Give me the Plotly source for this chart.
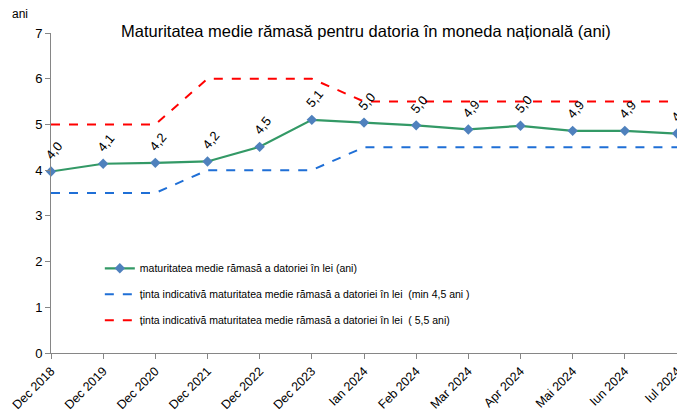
import plotly.graph_objects as go

categories = ["Dec 2018", "Dec 2019", "Dec 2020", "Dec 2021", "Dec 2022", "Dec 2023",
              "Ian 2024", "Feb 2024", "Mar 2024", "Apr 2024", "Mai 2024", "Iun 2024", "Iul 2024"]
maturity = [3.97, 4.14, 4.16, 4.19, 4.51, 5.10, 5.04, 4.98, 4.89, 4.97, 4.86, 4.86, 4.80]
maturity_labels = ["4,0", "4,1", "4,2", "4,2", "4,5", "5,1", "5,0", "5,0", "4,9", "5,0", "4,9", "4,9", "4,8"]
target_min = [3.5, 3.5, 3.5, 4.0, 4.0, 4.0, 4.5, 4.5, 4.5, 4.5, 4.5, 4.5, 4.5]
target_55 = [5.0, 5.0, 5.0, 6.0, 6.0, 6.0, 5.5, 5.5, 5.5, 5.5, 5.5, 5.5, 5.5]

xs = list(range(len(categories)))
font = "Liberation Sans, Arial, sans-serif"

fig = go.Figure()
fig.add_trace(go.Scatter(
    x=xs, y=maturity, mode="lines+markers",
    name="maturitatea medie rămasă a datoriei în lei (ani)",
    legendgroup="a",
    line=dict(color="#339966", width=2.2),
    marker=dict(symbol="diamond", size=8, color="#4f81bd"),
    cliponaxis=False,
))
fig.add_trace(go.Scatter(
    x=xs, y=target_min, mode="lines",
    name="ținta indicativă maturitatea medie rămasă a datoriei în lei  (min 4,5 ani )",
    legendgroup="b",
    line=dict(color="#1f6fd6", width=2, dash="dash"),
))
fig.add_trace(go.Scatter(
    x=xs, y=target_55, mode="lines",
    name="ținta indicativă maturitatea medie rămasă a datoriei în lei  ( 5,5 ani)",
    legendgroup="c",
    line=dict(color="#ff0000", width=2, dash="dash"),
))

annotations = []
for x, y, t in zip(xs, maturity, maturity_labels):
    annotations.append(dict(
        x=x, y=y, text=t, showarrow=False, textangle=-50,
        xref="x", yref="y", yshift=21, xshift=3,
        font=dict(family=font, size=13, color="#000000"),
    ))
annotations.append(dict(
    xref="paper", yref="paper", x=-0.05, y=1.03, text="ani", showarrow=False,
    xanchor="center", yanchor="bottom",
    font=dict(family=font, size=12, color="#000000"),
))

fig.update_layout(
    width=677, height=416,
    margin=dict(l=51, r=0, t=33, b=63),
    paper_bgcolor="white", plot_bgcolor="white",
    title=dict(text="Maturitatea medie rămasă pentru datoria în moneda națională (ani)",
               xref="paper", x=0.503, xanchor="center", y=0.925, yanchor="middle",
               font=dict(family=font, size=16.5, color="#000000")),
    showlegend=True,
    legend=dict(x=0.078, y=0.31, xanchor="left", yanchor="top",
                bgcolor="rgba(0,0,0,0)", tracegroupgap=7,
                font=dict(family=font, size=10.5, color="#000000"), itemwidth=30),
    annotations=annotations,
    font=dict(family=font, size=13, color="#000000"),
)
fig.update_xaxes(
    tickmode="array", tickvals=xs, ticktext=categories, tickangle=-45,
    range=[0, 12], showgrid=False, zeroline=False,
    showline=True, linecolor="#868686", linewidth=1,
    ticks="outside", ticklen=5, tickcolor="#868686",
    ticklabeloverflow="allow", automargin=False,
    tickfont=dict(family=font, size=12.5, color="#000000"),
)
fig.update_yaxes(
    range=[0, 7], dtick=1, showgrid=False, zeroline=False,
    showline=True, linecolor="#868686", linewidth=1,
    ticks="outside", ticklen=5, tickcolor="#868686", automargin=False,
    tickfont=dict(family=font, size=13, color="#000000"),
)

fig.write_html("out.html", config={"displayModeBar": False},
               post_script="document.body.style.margin='0px';document.body.style.overflow='hidden';")
